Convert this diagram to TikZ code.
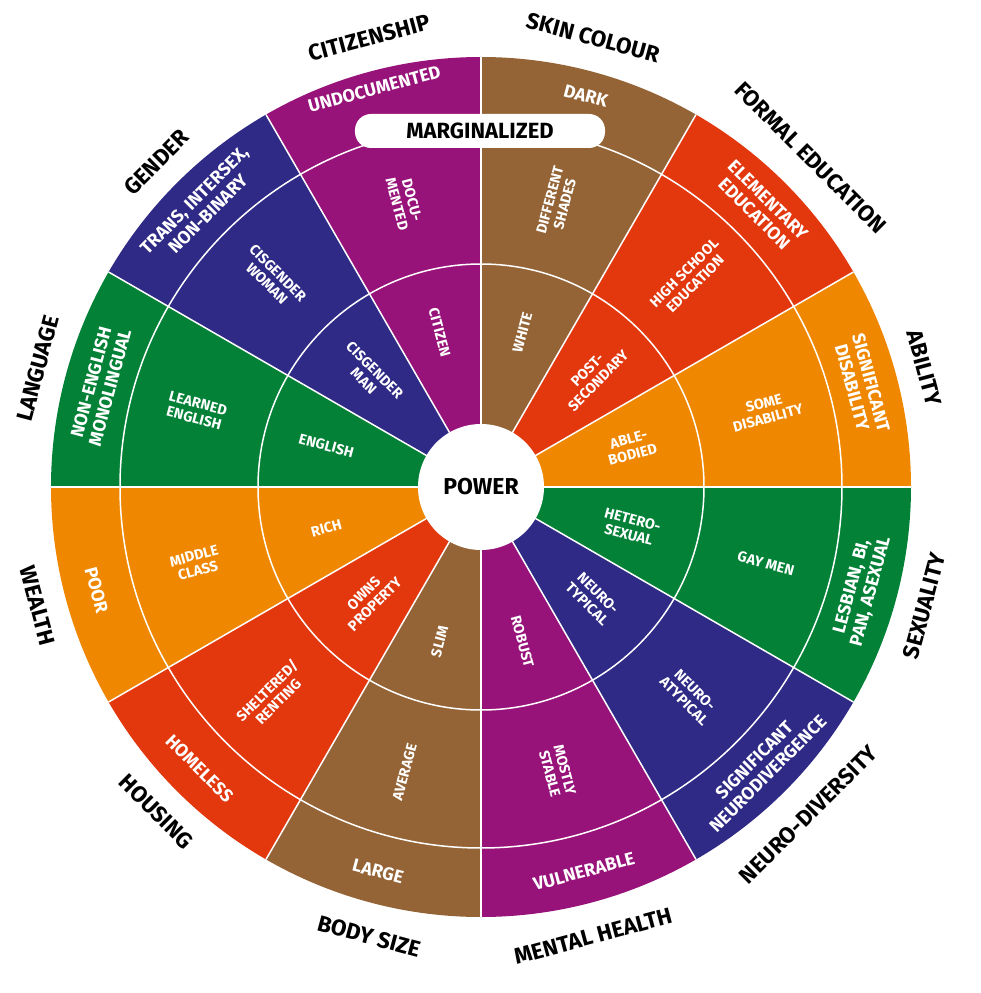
\documentclass[tikz,border=0pt]{standalone}
\usepackage{fontspec}
\setmainfont{Fira Sans}
\definecolor{cpur}{HTML}{97137A}
\definecolor{cbro}{HTML}{946436}
\definecolor{cred}{HTML}{E3370E}
\definecolor{cora}{HTML}{EF8800}
\definecolor{cgre}{HTML}{038137}
\definecolor{cnav}{HTML}{2E2A85}
\tikzset{
 inl/.style={text=white,align=center,font=\bfseries\fontsize{14.5}{15.5}\selectfont,inner sep=0pt},
 midl/.style={inl},
 outl/.style={text=white,align=center,font=\bfseries\fontsize{18}{19.5}\selectfont,inner sep=0pt},
 catl/.style={text=black,align=center,font=\bfseries\fontsize{22.5}{24}\selectfont,inner sep=0pt},
 sep/.style={white,line width=1.5pt}
}
\begin{document}
\begin{tikzpicture}[x=1pt,y=1pt]
\useasboundingbox (-481,-506) rectangle (499,487);
\foreach \a/\c in {60/cbro,30/cred,0/cora,-30/cgre,-60/cnav,-90/cpur,-120/cbro,-150/cred,-180/cora,150/cgre,120/cnav,90/cpur}{
  \fill[\c] (0,0) -- (\a:430) arc[start angle=\a, end angle=\a+30, radius=430] -- cycle;
}
\foreach \a in {0,30,...,330}{\draw[sep] (0,0) -- (\a:430);}
\draw[sep] (0,0) circle[radius=223];
\draw[sep] (0,0) circle[radius=361];
\fill[white] (0,0) circle[radius=63];
\node[font=\bfseries\fontsize{23}{25}\selectfont] (power) at (0,0) {POWER};
\node[fill=white,rounded corners=16pt,minimum width=250pt,minimum height=34pt,inner sep=0pt,font=\bfseries\fontsize{22}{24}\selectfont] (marg) at (-1,356) {MARGINALIZED};
% inner ring
\node[inl,rotate=-75] (i1) at (105:160) {CITIZEN};
\node[inl,rotate=75] (i2) at (75:160) {WHITE};
\node[inl,rotate=45] (i3) at (45:158) {POST-\\SECONDARY};
\node[inl,rotate=15] (i4) at (15:155) {ABLE-\\BODIED};
\node[inl,rotate=-15] (i5) at (-15:155) {HETERO-\\SEXUAL};
\node[inl,rotate=-45] (i6) at (-45:158) {NEURO-\\TYPICAL};
\node[inl,rotate=-75] (i7) at (-75:160) {ROBUST};
\node[inl,rotate=75] (i8) at (-105:160) {SLIM};
\node[inl,rotate=45] (i9) at (-135:158) {OWNS\\PROPERTY};
\node[inl,rotate=15] (i10) at (-165:160) {RICH};
\node[inl,rotate=-15] (i11) at (165:160) {ENGLISH};
\node[inl,rotate=-45] (i12) at (135:158) {CISGENDER\\MAN};
% middle ring
\node[midl,rotate=-75] (m1) at (105:295) {DOCU-\\MENTED};
\node[midl,rotate=75] (m2) at (75:295) {DIFFERENT\\SHADES};
\node[midl,rotate=45] (m3) at (45:295) {HIGH SCHOOL\\EDUCATION};
\node[midl,rotate=15] (m4) at (15:295) {SOME\\DISABILITY};
\node[midl,rotate=-15] (m5) at (-15:295) {GAY MEN};
\node[midl,rotate=-45] (m6) at (-45:295) {NEURO-\\ATYPICAL};
\node[midl,rotate=-75] (m7) at (-75:295) {MOSTLY\\STABLE};
\node[midl,rotate=75] (m8) at (-105:295) {AVERAGE};
\node[midl,rotate=45] (m9) at (-135:295) {SHELTERED/\\RENTING};
\node[midl,rotate=15] (m10) at (-165:295) {MIDDLE\\CLASS};
\node[midl,rotate=-15] (m11) at (165:295) {LEARNED\\ENGLISH};
\node[midl,rotate=-45] (m12) at (135:295) {CISGENDER\\WOMAN};
% outer ring
\node[outl,rotate=15] (o1) at (105:412) {UNDOCUMENTED};
\node[outl,rotate=-15] (o2) at (75:405) {DARK};
\node[outl,rotate=-45] (o3) at (45:396) {ELEMENTARY\\EDUCATION};
\node[outl,rotate=-75] (o4) at (15:394) {SIGNIFICANT\\DISABILITY};
\node[outl,rotate=75] (o5) at (-15:394) {LESBIAN, BI,\\PAN, ASEXUAL};
\node[outl,rotate=45] (o6) at (-45:396) {SIGNIFICANT\\NEURODIVERGENCE};
\node[outl,rotate=15] (o7) at (-75:398) {VULNERABLE};
\node[outl,rotate=-15] (o8) at (-105:398) {LARGE};
\node[outl,rotate=-45] (o9) at (-135:398) {HOMELESS};
\node[outl,rotate=-75] (o10) at (-165:398) {POOR};
\node[outl,rotate=75] (o11) at (165:394) {NON-ENGLISH\\MONOLINGUAL};
\node[outl,rotate=45] (o12) at (135:396) {TRANS, INTERSEX,\\NON-BINARY};
% categories
\node[catl,rotate=15] (c1) at (104:463) {CITIZENSHIP};
\node[catl,rotate=-15] (c2) at (76:463) {SKIN COLOUR};
\node[catl,rotate=-45] (c3) at (45:466) {FORMAL EDUCATION};
\node[catl,rotate=-75] (c4) at (15:459) {ABILITY};
\node[catl,rotate=75] (c5) at (-15:459) {SEXUALITY};
\node[catl,rotate=45] (c6) at (-45:463) {NEURO-DIVERSITY};
\node[catl,rotate=15] (c7) at (-76:463) {MENTAL HEALTH};
\node[catl,rotate=-15] (c8) at (-104:463) {BODY SIZE};
\node[catl,rotate=-45] (c9) at (-135:459) {HOUSING};
\node[catl,rotate=-75] (c10) at (-165:459) {WEALTH};
\node[catl,rotate=75] (c11) at (165:459) {LANGUAGE};
\node[catl,rotate=45] (c12) at (135:459) {GENDER};
\end{tikzpicture}
\end{document}
